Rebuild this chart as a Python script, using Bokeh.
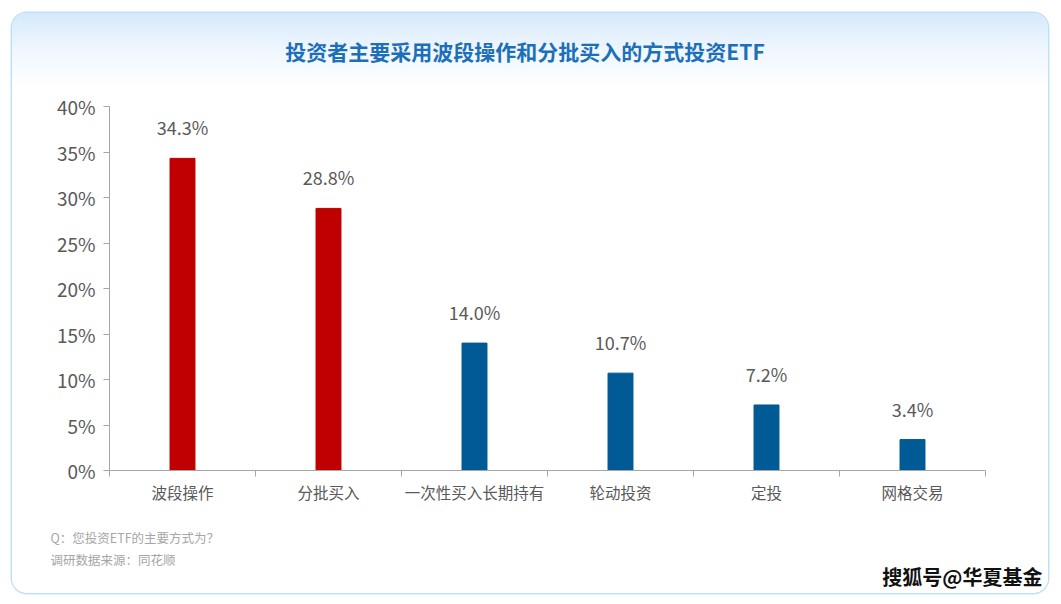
from bokeh.plotting import figure
from bokeh.models import (Range1d, FixedTicker, PrintfTickFormatter, ColumnDataSource,
                          LabelSet, Label)
from bokeh.core.properties import value
from bokeh.embed import file_html
from bokeh.resources import INLINE

categories = ["波段操作", "分批买入", "一次性买入长期持有", "轮动投资", "定投", "网格交易"]
values = [34.3, 28.8, 14.0, 10.7, 7.2, 3.4]
colors = ["#C00000", "#C00000", "#005A96", "#005A96", "#005A96", "#005A96"]
y_ticks = [0, 5, 10, 15, 20, 25, 30, 35, 40]
title_text = "投资者主要采用波段操作和分批买入的方式投资ETF"
note1 = "Q：您投资ETF的主要方式为？"
note2 = "调研数据来源：同花顺"
watermark = "搜狐号@华夏基金"

FONT = "Noto Sans CJK SC"

# page-pixel helpers: the plot frame covers the whole card, axes sit at fixed data locations
PX_PER_CAT = 146.0
PX_PER_PCT = 9.1
X0_PX, Y0_PX = 109, 470          # page position of the data origin
CARD = (12, 13, 1048, 593)       # card left, top, right, bottom on the page


def ux(px):
    return (px - X0_PX) / PX_PER_CAT


def vy(py):
    return (Y0_PX - py) / PX_PER_PCT


p = figure(width=CARD[2] - CARD[0], height=CARD[3] - CARD[1],
           output_backend="svg", toolbar_location=None,
           x_range=Range1d(ux(CARD[0]), ux(CARD[2])),
           y_range=Range1d(vy(CARD[3]), vy(CARD[1])),
           min_border=0, min_border_left=0, min_border_right=0,
           min_border_top=0, min_border_bottom=0,
           margin=(CARD[1], 0, 0, CARD[0]))
p.styles = {
    "background": "linear-gradient(to bottom, #d5e9fc 0px, #eef6fe 35px, #ffffff 75px)",
    "border-radius": "15px",
    "box-shadow": "0 0 0 1.5px #bfe1f8",
}
p.border_fill_alpha = 0
p.background_fill_alpha = 0
p.outline_line_color = None
p.grid.visible = False

centers = [i + 0.5 for i in range(len(categories))]
src = ColumnDataSource(dict(x=centers, top=values, color=colors,
                            label=[f"{v:.1f}%" for v in values]))
p.vbar(x="x", top="top", width=0.171, color="color", source=src)

labels = LabelSet(x="x", y="top", text="label", source=src, text_align="center",
                  text_baseline="bottom", y_offset=18, text_font=value(FONT),
                  text_font_size="18px", text_color="#595959")
p.add_layout(labels)

# x axis
xa = p.xaxis[0]
xa.fixed_location = 0
xa.bounds = (0, len(categories))
xa.ticker = FixedTicker(ticks=centers, minor_ticks=list(range(len(categories) + 1)))
xa.major_label_overrides = {c: cat for c, cat in zip(centers, categories)}
xa.major_tick_out = 0
xa.major_tick_in = 0
xa.minor_tick_out = 6
xa.minor_tick_in = 0
xa.minor_tick_line_color = "#a6a6a6"
xa.axis_line_color = "#a6a6a6"
xa.major_label_standoff = 4
xa.major_label_text_font = FONT
xa.major_label_text_font_size = "15.5px"
xa.major_label_text_color = "#595959"

# y axis
ya = p.yaxis[0]
ya.fixed_location = 0
ya.bounds = (0, 40)
ya.ticker = FixedTicker(ticks=y_ticks, minor_ticks=[])
ya.formatter = PrintfTickFormatter(format="%d%%")
ya.major_tick_out = 6
ya.major_tick_in = 0
ya.major_tick_line_color = "#a6a6a6"
ya.axis_line_color = "#a6a6a6"
ya.major_label_standoff = 8
ya.major_label_text_font = FONT
ya.major_label_text_font_size = "19px"
ya.major_label_text_color = "#595959"

# title, notes and watermark
p.add_layout(Label(x=ux(524.5), y=vy(50), text=title_text, text_align="center",
                   text_baseline="middle", text_font=FONT, text_font_size="21px",
                   text_font_style="bold", text_color="#1c6fb8"))
p.add_layout(Label(x=ux(50), y=vy(537), text=note1, text_align="left",
                   text_baseline="middle", text_font=FONT, text_font_size="12.5px",
                   text_color="#a6a6a6"))
p.add_layout(Label(x=ux(50), y=vy(559), text=note2, text_align="left",
                   text_baseline="middle", text_font=FONT, text_font_size="12.5px",
                   text_color="#a6a6a6"))
p.add_layout(Label(x=ux(1042), y=vy(576), text=watermark, text_align="right",
                   text_baseline="middle", text_font=FONT, text_font_size="20px",
                   text_font_style="bold", text_color="#111111"))

open("out.html", "w").write(file_html(p, INLINE))
